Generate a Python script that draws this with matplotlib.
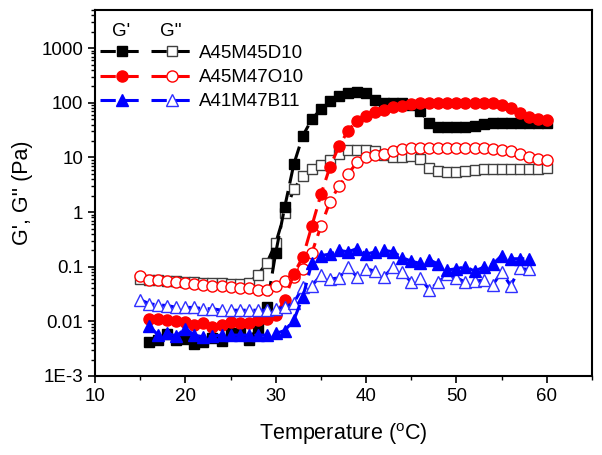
import numpy as np
import matplotlib
matplotlib.use("Agg")
import matplotlib.pyplot as plt
from matplotlib.legend_handler import HandlerTuple
from matplotlib.ticker import FixedLocator, FixedFormatter, LogLocator, NullFormatter, MultipleLocator

plt.rcParams['font.family'] = ['Liberation Sans', 'DejaVu Sans']

# Temperaturas (oC) de cada serie
t_d10_gp = list(range(16, 61))
t_d10_gpp = list(range(15, 61))
t_o10_gp = list(range(16, 61))
t_o10_gpp = list(range(15, 61))
t_b11_gp = list(range(16, 59))
t_b11_gpp = list(range(15, 59))

# G' e G'' (Pa)
d10_gp = [0.0042, 0.0045, 0.0058, 0.0045, 0.0047, 0.0039, 0.0042, 0.005, 0.0043, 0.006,
          0.006, 0.0045, 0.0076, 0.0185, 0.18, 1.25, 7.5, 25, 50, 77,
          107, 136, 151, 161, 151, 115, 98, 98, 98, 91,
          70, 42, 35.5, 35.5, 35.5, 35.5, 38, 41, 42, 42,
          42, 42, 42, 42, 42]
d10_gpp = [0.06, 0.058, 0.056, 0.055, 0.054, 0.053, 0.052, 0.051, 0.05, 0.05,
           0.049, 0.048, 0.05, 0.071, 0.115, 0.27, 0.97, 2.6, 4.6, 6.1,
           7.3, 8.9, 11.8, 13.6, 13.6, 13.6, 13.2, 11.1, 10.4, 10.4,
           10.7, 9.3, 6.5, 5.6, 5.5, 5.5, 5.6, 5.8, 6.1, 6.1,
           6.1, 6.1, 6.1, 6.1, 6.2, 6.5]
o10_gp = [0.0109, 0.0109, 0.0106, 0.0101, 0.0098, 0.0086, 0.0092, 0.0079, 0.0086, 0.0098,
          0.0092, 0.0092, 0.0106, 0.011, 0.013, 0.025, 0.075, 0.15, 0.56, 2.1,
          6.7, 16, 31, 47, 58, 67, 74, 83, 89, 95,
          98, 100, 100, 101, 101, 101, 101, 101, 98, 93,
          80, 65, 56, 50, 49]
o10_gpp = [0.068, 0.058, 0.056, 0.055, 0.053, 0.05, 0.049, 0.047, 0.045, 0.044,
           0.043, 0.041, 0.04, 0.038, 0.038, 0.045, 0.055, 0.065, 0.09, 0.18,
           0.55, 1.55, 3.0, 5.0, 8.1, 10, 11, 11.4, 13.2, 14.1,
           14.7, 15.2, 15.2, 14.7, 14.7, 14.7, 14.7, 14.7, 14.7, 14.1,
           13.6, 13.2, 11.4, 10, 9.3, 9.0]
b11_gp = [0.0081, 0.0056, 0.006, 0.0054, 0.0074, 0.0056, 0.0052, 0.0054, 0.0056, 0.0056,
          0.0056, 0.0056, 0.0056, 0.0056, 0.006, 0.0068, 0.0105, 0.028, 0.118, 0.16,
          0.17, 0.2, 0.187, 0.215, 0.17, 0.187, 0.2, 0.187, 0.147, 0.126,
          0.115, 0.133, 0.112, 0.087, 0.092, 0.1, 0.083, 0.098, 0.11, 0.16,
          0.14, 0.14, 0.14]
b11_gpp = [0.025, 0.021, 0.02, 0.0195, 0.018, 0.018, 0.018, 0.017, 0.017, 0.016,
           0.016, 0.016, 0.016, 0.016, 0.016, 0.017, 0.018, 0.022, 0.042, 0.045,
           0.07, 0.06, 0.062, 0.1, 0.065, 0.092, 0.083, 0.066, 0.1, 0.08,
           0.052, 0.062, 0.038, 0.052, 0.073, 0.063, 0.052, 0.055, 0.056, 0.046,
           0.08, 0.045, 0.093, 0.089]

amostras = ["A45M45D10", "A45M47O10", "A41M47B11"]
y_ticks = [1e-3, 1e-2, 1e-1, 1, 10, 100, 1000]
y_tick_labels = ["1E-3", "0.01", "0.1", "1", "10", "100", "1000"]

fig = plt.figure(figsize=(6.02, 4.55), dpi=100)
ax = fig.add_axes([95 / 602, 79 / 455, 497 / 602, 366 / 455])

dash = (0, (5, 2.5))
estilo = dict(linestyle=dash, linewidth=2.2)

# Series: abertas (G'') primeiro, depois cheias (G')
h = {}
h["d10_pp"], = ax.plot(t_d10_gpp, d10_gpp, color="black", marker="s", ms=7, mfc="white",
                       mec="#404040", mew=1.0, **estilo)
h["d10_p"], = ax.plot(t_d10_gp, d10_gp, color="black", marker="s", ms=7, mfc="black",
                      mec="black", **estilo)
h["o10_pp"], = ax.plot(t_o10_gpp, o10_gpp, color="red", marker="o", ms=8, mfc="white",
                       mec="red", mew=1.0, **estilo)
h["o10_p"], = ax.plot(t_o10_gp, o10_gp, color="red", marker="o", ms=8, mfc="red",
                      mec="red", **estilo)
h["b11_pp"], = ax.plot(t_b11_gpp, b11_gpp, color="blue", marker="^", ms=8, mfc="white",
                       mec="#3030ff", mew=1.0, **estilo)
h["b11_p"], = ax.plot(t_b11_gp, b11_gp, color="blue", marker="^", ms=8, mfc="blue",
                      mec="blue", **estilo)

ax.set_yscale("log")
ax.set_xlim(10, 65)
ax.set_ylim(1e-3, 5000)

ax.xaxis.set_major_locator(MultipleLocator(10))
ax.xaxis.set_minor_locator(MultipleLocator(5))
ax.yaxis.set_major_locator(FixedLocator(y_ticks))
ax.yaxis.set_major_formatter(FixedFormatter(y_tick_labels))
ax.yaxis.set_minor_locator(LogLocator(base=10, subs=np.arange(2, 10)))
ax.yaxis.set_minor_formatter(NullFormatter())

ax.tick_params(axis="both", which="major", direction="out", length=5, width=1.2,
               labelsize=13.5, top=False, right=False)
ax.tick_params(axis="both", which="minor", direction="out", length=3, width=1.0,
               top=False, right=False)
for s in ax.spines.values():
    s.set_linewidth(1.5)

ax.set_xlabel("Temperature ($^\\mathregular{o}$C)", fontsize=15.5, labelpad=12)
ax.set_ylabel("G', G'' (Pa)", fontsize=15.5, labelpad=6)

# Legenda estilo Origin: G' e G'' lado a lado
handles = [(h["d10_p"], h["d10_pp"]), (h["o10_p"], h["o10_pp"]), (h["b11_p"], h["b11_pp"])]
leg = ax.legend(handles, amostras, handler_map={tuple: HandlerTuple(ndivide=None, pad=0.4)},
                loc="upper left", bbox_to_anchor=(0.01, 0.905), frameon=False,
                fontsize=13.5, handlelength=5.0, handletextpad=0.3, labelspacing=0.38,
                borderpad=0, borderaxespad=0)
ax.text(0.052, 0.94, "G'", transform=ax.transAxes, fontsize=13.5, ha="center", va="center")
ax.text(0.153, 0.94, "G''", transform=ax.transAxes, fontsize=13.5, ha="center", va="center")

fig.savefig("out.png", dpi=100)
